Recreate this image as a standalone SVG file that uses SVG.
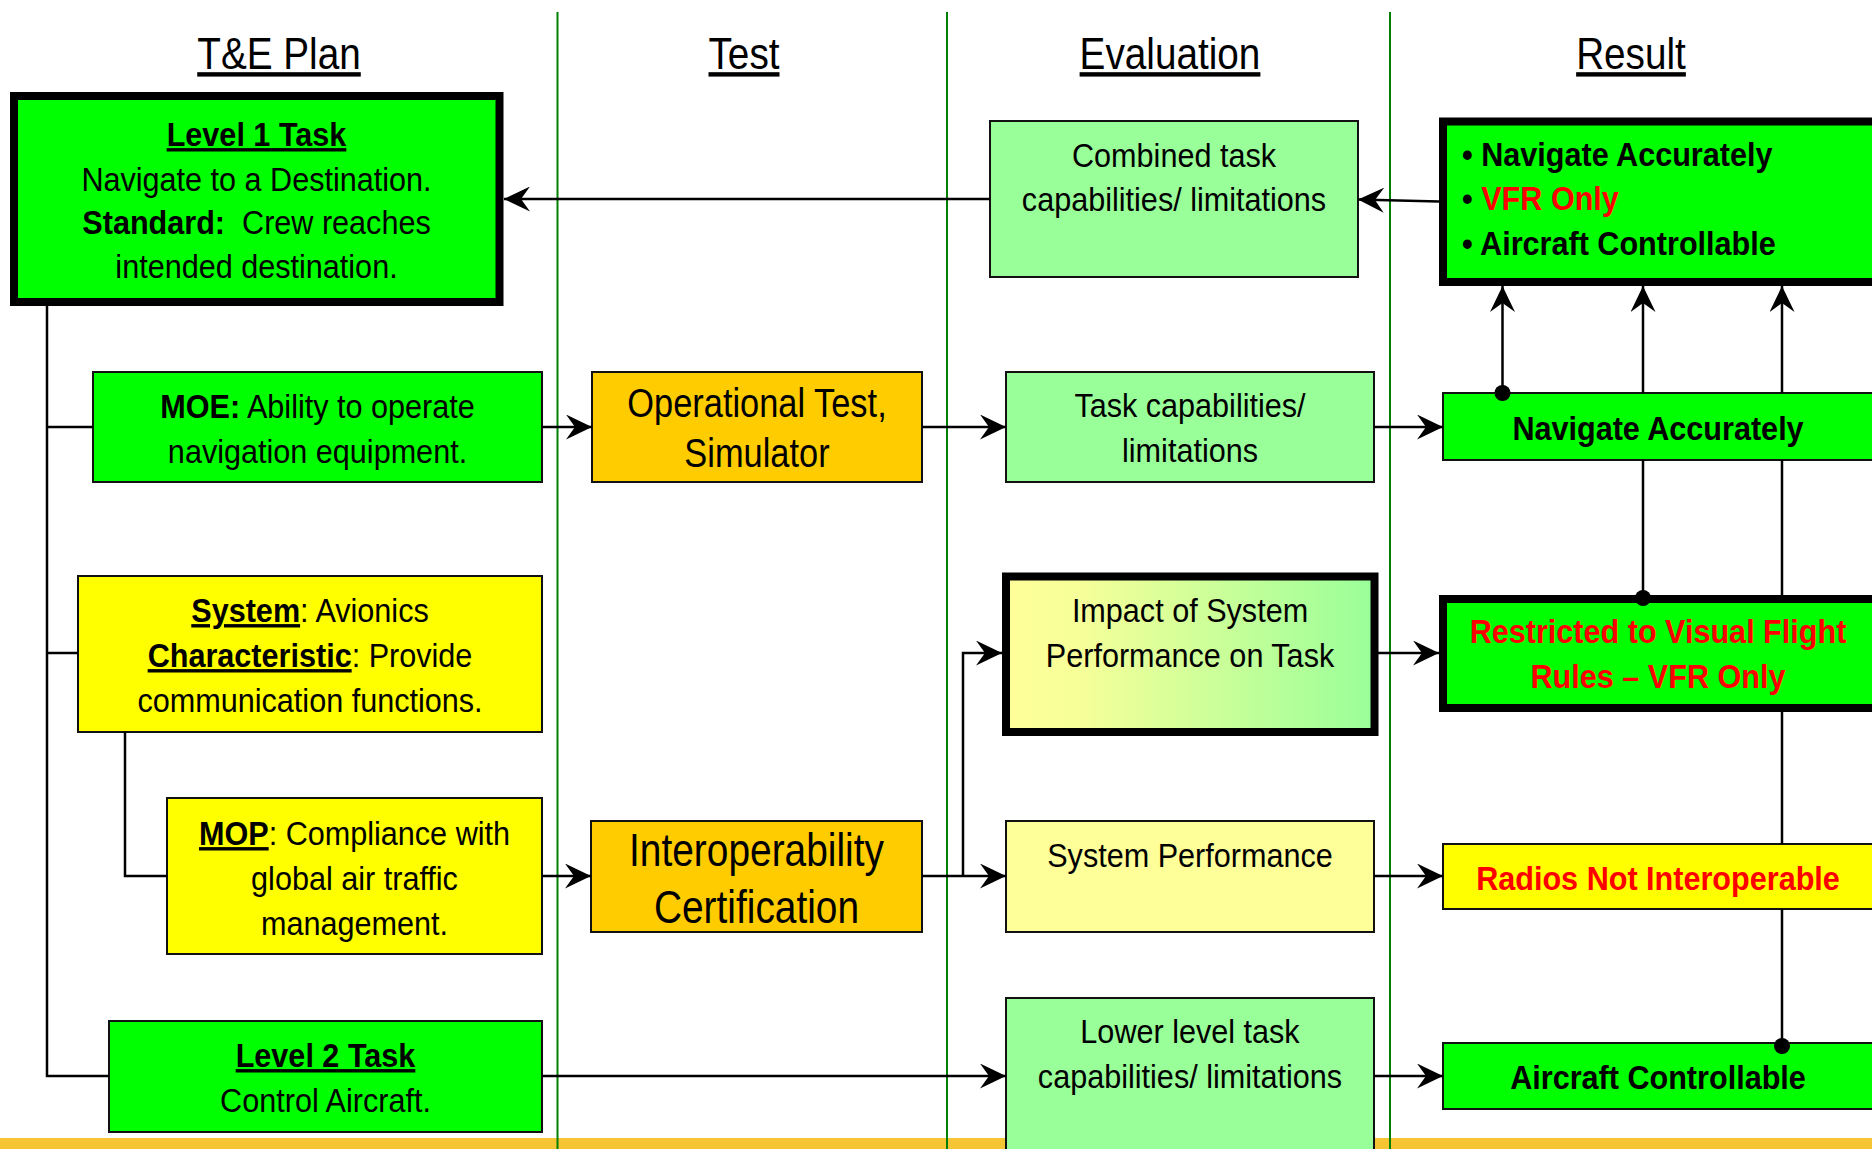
<svg xmlns="http://www.w3.org/2000/svg" width="1872" height="1149" viewBox="0 0 1872 1149">
<defs>
<style>
.t{font-family:"Liberation Sans",Arial,sans-serif;fill:#000;text-anchor:middle}
.st{text-anchor:start}
.b{font-weight:bold}
.u{text-decoration:underline}
.red{fill:#FF0000}
.box{stroke:#111;stroke-width:2}
.thick{stroke:#000;stroke-width:8}
.conn{fill:none;stroke:#000;stroke-width:2.5}
.lane{stroke:#008000;stroke-width:2}
.g1{fill:#00FF00}
.g2{fill:#99FF99}
.y1{fill:#FFFF00}
.y2{fill:#FFFF99}
.o1{fill:#FFCC00}
</style>
<marker id="arr" viewBox="0 0 26 25" refX="26" refY="12.5" markerWidth="26" markerHeight="25" markerUnits="userSpaceOnUse" orient="auto">
<path d="M0 0 L26 12.5 L0 25 L9 12.5 Z" fill="#000"/>
</marker>
<linearGradient id="gImpact" x1="0" y1="0" x2="1" y2="0">
<stop offset="0" stop-color="#FFFF99"/>
<stop offset="0.2" stop-color="#F6FF99"/>
<stop offset="1" stop-color="#99FF99"/>
</linearGradient>
</defs>
<rect x="0" y="0" width="1872" height="1149" fill="#FFFFFF"/>
<rect id="band" x="0" y="1138" width="1872" height="11" fill="#F6C534"/>
<g id="lanes">
<line class="lane" x1="557.5" y1="12" x2="557.5" y2="1149"/>
<line class="lane" x1="947" y1="12" x2="947" y2="1149"/>
<line class="lane" x1="1390" y1="12" x2="1390" y2="1149"/>
</g>
<g id="titles">
<text class="t u" font-size="44" transform="translate(279 69) scale(0.88 1)">T&amp;E Plan</text>
<text class="t u" font-size="44" transform="translate(744 69) scale(0.88 1)">Test</text>
<text class="t u" font-size="44" transform="translate(1170 69) scale(0.88 1)">Evaluation</text>
<text class="t u" font-size="44" transform="translate(1631 69) scale(0.88 1)">Result</text>
</g>
<g id="level1">
<rect class="g1 thick" x="14" y="96" width="485.5" height="206"/>
<text class="t b u" font-size="34" transform="translate(256.5 146) scale(0.9 1)">Level 1 Task</text>
<text class="t" font-size="34" transform="translate(256.5 191) scale(0.9 1)">Navigate to a Destination.</text>
<text class="t" font-size="34" transform="translate(256.5 234) scale(0.9 1)"><tspan class="b">Standard:</tspan>&#160; Crew reaches</text>
<text class="t" font-size="34" transform="translate(256.5 278) scale(0.9 1)">intended destination.</text>
</g>
<g id="moe">
<rect class="g1 box" x="93" y="372" width="449" height="110"/>
<text class="t" font-size="34" transform="translate(317.5 418) scale(0.9 1)"><tspan class="b">MOE:</tspan> Ability to operate</text>
<text class="t" font-size="34" transform="translate(317.5 463) scale(0.9 1)">navigation equipment.</text>
</g>
<g id="system">
<rect class="y1 box" x="78" y="576" width="464" height="156"/>
<text class="t" font-size="34" transform="translate(310 622) scale(0.9 1)"><tspan class="b u">System</tspan>: Avionics</text>
<text class="t" font-size="34" transform="translate(310 667) scale(0.9 1)"><tspan class="b u">Characteristic</tspan>: Provide</text>
<text class="t" font-size="34" transform="translate(310 712) scale(0.9 1)">communication functions.</text>
</g>
<g id="mop">
<rect class="y1 box" x="167" y="798" width="375" height="156"/>
<text class="t" font-size="34" transform="translate(354.5 845) scale(0.9 1)"><tspan class="b u">MOP</tspan>: Compliance with</text>
<text class="t" font-size="34" transform="translate(354.5 890) scale(0.9 1)">global air traffic</text>
<text class="t" font-size="34" transform="translate(354.5 935) scale(0.9 1)">management.</text>
</g>
<g id="level2">
<rect class="g1 box" x="109" y="1021" width="433" height="111"/>
<text class="t b u" font-size="34" transform="translate(325.5 1067) scale(0.9 1)">Level 2 Task</text>
<text class="t" font-size="34" transform="translate(325.5 1112) scale(0.9 1)">Control Aircraft.</text>
</g>
<g id="optest">
<rect class="o1 box" x="592" y="372" width="330" height="110"/>
<text class="t" font-size="40" transform="translate(757 417) scale(0.86 1)">Operational Test,</text>
<text class="t" font-size="40" transform="translate(757 467) scale(0.86 1)">Simulator</text>
</g>
<g id="interop">
<rect class="o1 box" x="591" y="821" width="331" height="111"/>
<text class="t" font-size="46" transform="translate(756.5 866) scale(0.845 1)">Interoperability</text>
<text class="t" font-size="46" transform="translate(756.5 923) scale(0.845 1)">Certification</text>
</g>
<g id="combined">
<rect class="g2 box" x="990" y="121" width="368" height="156"/>
<text class="t" font-size="34" transform="translate(1174 167) scale(0.9 1)">Combined task</text>
<text class="t" font-size="34" transform="translate(1174 211) scale(0.9 1)">capabilities/ limitations</text>
</g>
<g id="taskcap">
<rect class="g2 box" x="1006" y="372" width="368" height="110"/>
<text class="t" font-size="34" transform="translate(1190 417) scale(0.9 1)">Task capabilities/</text>
<text class="t" font-size="34" transform="translate(1190 462) scale(0.9 1)">limitations</text>
</g>
<g id="impact">
<rect class="thick" fill="url(#gImpact)" x="1006" y="576.5" width="368.5" height="155.5"/>
<text class="t" font-size="34" transform="translate(1190 622) scale(0.9 1)">Impact of System</text>
<text class="t" font-size="34" transform="translate(1190 667) scale(0.9 1)">Performance on Task</text>
</g>
<g id="sysperf">
<rect class="y2 box" x="1006" y="821" width="368" height="111"/>
<text class="t" font-size="34" transform="translate(1190 867) scale(0.9 1)">System Performance</text>
</g>
<g id="lower">
<rect class="g2 box" x="1006" y="998" width="368" height="170"/>
<text class="t" font-size="34" transform="translate(1190 1043) scale(0.9 1)">Lower level task</text>
<text class="t" font-size="34" transform="translate(1190 1088) scale(0.9 1)">capabilities/ limitations</text>
</g>
<g id="result-summary">
<rect class="g1 thick" x="1443" y="121.5" width="440" height="160.5"/>
<text class="t st b" font-size="34" transform="translate(1462 166) scale(0.9 1)">• Navigate Accurately</text>
<text class="t st b" font-size="34" transform="translate(1462 210) scale(0.9 1)">• <tspan class="red">VFR Only</tspan></text>
<text class="t st b" font-size="34" transform="translate(1462 255) scale(0.9 1)">• Aircraft Controllable</text>
</g>
<g id="navacc">
<rect class="g1 box" x="1443" y="393" width="440" height="67"/>
<text class="t b" font-size="34" transform="translate(1658 440) scale(0.9 1)">Navigate Accurately</text>
</g>
<g id="restricted">
<rect class="g1 thick" x="1443" y="599" width="440" height="109"/>
<text class="t b red" font-size="34" transform="translate(1658 643) scale(0.9 1)">Restricted to Visual Flight</text>
<text class="t b red" font-size="34" transform="translate(1658 688) scale(0.9 1)">Rules – VFR Only</text>
</g>
<g id="radios">
<rect class="y1 box" x="1443" y="844" width="440" height="65"/>
<text class="t b red" font-size="34" transform="translate(1658 890) scale(0.9 1)">Radios Not Interoperable</text>
</g>
<g id="aircraft">
<rect class="g1 box" x="1443" y="1043" width="440" height="66"/>
<text class="t b" font-size="34" transform="translate(1658 1089) scale(0.9 1)">Aircraft Controllable</text>
</g>
<g id="connectors">
<path class="conn" d="M47 306 V1076 H109"/>
<path class="conn" d="M47 427 H93"/>
<path class="conn" d="M47 653 H78"/>
<path class="conn" d="M125 732 V876 H167"/>
<path class="conn" d="M990 199 H504" marker-end="url(#arr)"/>
<path class="conn" d="M1439 201.5 L1358 199.5" marker-end="url(#arr)"/>
<path class="conn" d="M542 427 H592" marker-end="url(#arr)"/>
<path class="conn" d="M922 427 H1006" marker-end="url(#arr)"/>
<path class="conn" d="M1374 427 H1443" marker-end="url(#arr)"/>
<path class="conn" d="M1378 653 H1439" marker-end="url(#arr)"/>
<path class="conn" d="M542 876 H591" marker-end="url(#arr)"/>
<path class="conn" d="M922 876 H1006" marker-end="url(#arr)"/>
<path class="conn" d="M963 876 V653 H1002" marker-end="url(#arr)"/>
<path class="conn" d="M1374 876 H1443" marker-end="url(#arr)"/>
<path class="conn" d="M542 1076 H1006" marker-end="url(#arr)"/>
<path class="conn" d="M1374 1076 H1443" marker-end="url(#arr)"/>
<path class="conn" d="M1502.5 393 V286" marker-end="url(#arr)"/>
<path class="conn" d="M1643 598 V460 M1643 393 V286" marker-end="url(#arr)"/>
<path class="conn" d="M1782 1046 V909 M1782 844 V712 M1782 595 V460 M1782 393 V286" marker-end="url(#arr)"/>
<circle cx="1502.5" cy="393" r="8" fill="#000"/>
<circle cx="1643" cy="598" r="8" fill="#000"/>
<circle cx="1782" cy="1046" r="8" fill="#000"/>
</g>
</svg>
